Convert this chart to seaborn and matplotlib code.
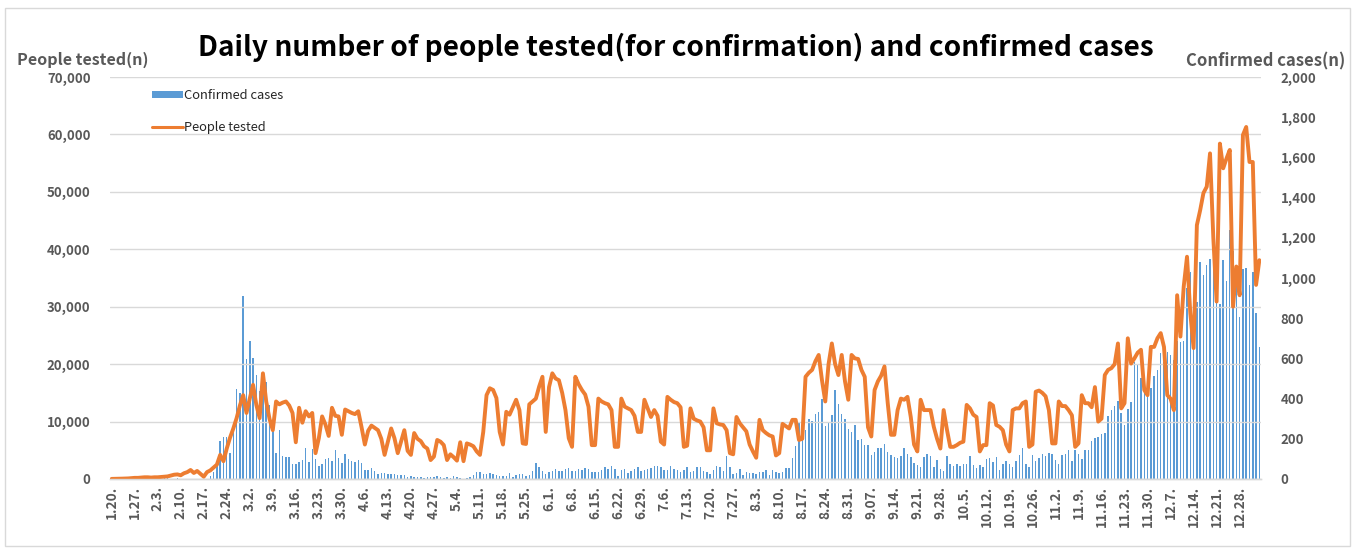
import numpy as np
import pandas as pd
import matplotlib
matplotlib.use("Agg")
import matplotlib.pyplot as plt
import seaborn as sns
from matplotlib.patches import Rectangle, Patch
from matplotlib.lines import Line2D
from matplotlib.ticker import FuncFormatter

# ---------------- data (daily, 2020-01-20 .. 2021-01-03) ----------------
dates = pd.date_range("2020-01-20", "2021-01-03", freq="D")

confirmed = [
    1, 0, 0, 0, 1, 0, 1, 1, 0, 0,
    2, 5, 1, 3, 0, 1, 3, 4, 1, 0,
    3, 0, 0, 0, 0, 0, 0, 1, 1, 1,
    15, 34, 74, 190, 210, 207, 130, 253, 449, 427,
    909, 595, 686, 600, 516, 438, 518, 483, 367, 248,
    131, 242, 114, 110, 107, 76, 74, 84, 93, 152,
    87, 147, 98, 64, 76, 100, 104, 91, 146, 105,
    78, 125, 101, 89, 86, 94, 81, 47, 47, 53,
    39, 27, 30, 32, 25, 27, 27, 22, 22, 18,
    8, 13, 9, 11, 8, 6, 10, 10, 10, 14,
    9, 4, 9, 6, 13, 8, 3, 2, 4, 12,
    18, 34, 35, 27, 26, 29, 27, 19, 13, 15,
    13, 32, 12, 20, 23, 25, 16, 19, 40, 79,
    58, 39, 27, 35, 38, 49, 39, 39, 51, 57,
    38, 38, 50, 45, 56, 48, 34, 37, 34, 43,
    59, 49, 67, 48, 17, 46, 51, 28, 39, 51,
    62, 42, 43, 51, 54, 63, 63, 61, 46, 44,
    63, 50, 45, 35, 44, 62, 33, 39, 61, 60,
    39, 34, 26, 45, 63, 59, 41, 113, 58, 25,
    28, 48, 18, 36, 31, 30, 23, 34, 33, 43,
    20, 43, 36, 28, 34, 54, 56, 103, 166, 279,
    197, 246, 297, 288, 324, 332, 397, 266, 280, 320,
    441, 371, 323, 299, 248, 235, 267, 195, 198, 168,
    167, 119, 136, 156, 155, 176, 136, 121, 109, 106,
    113, 153, 126, 110, 82, 70, 61, 110, 125, 114,
    61, 95, 50, 38, 113, 77, 63, 75, 64, 73,
    75, 114, 69, 54, 72, 58, 98, 102, 84, 110,
    47, 73, 91, 76, 58, 89, 121, 155, 77, 61,
    119, 88, 103, 125, 114, 127, 124, 97, 75, 118,
    125, 145, 89, 143, 126, 100, 146, 143, 191, 205,
    208, 223, 230, 313, 343, 363, 386, 330, 271, 349,
    382, 583, 569, 504, 450, 438, 451, 511, 540, 629,
    583, 631, 615, 594, 686, 682, 689, 950, 1030, 718,
    880, 1078, 1014, 1064, 1097, 1097, 926, 869, 1092, 985,
    1241, 1132, 970, 808, 1045, 1050, 967, 1029, 824, 657,
]

tested = [
    20, 30, 40, 60, 80, 100, 150, 200, 200, 250,
    300, 300, 250, 300, 300, 350, 400, 450, 600, 750,
    800, 650, 1000, 1200, 1570, 1050, 1400, 900, 400, 1200,
    1500, 2000, 2500, 4200, 3100, 5300, 7200, 8800, 10600, 12800,
    14600, 11500, 14000, 16400, 12900, 10600, 18400, 13500, 10500, 8500,
    13500, 13000, 13300, 13500, 12800, 11500, 6400, 12400, 9800, 11800,
    10900, 11500, 4500, 7100, 10900, 9500, 7500, 12400, 11000, 10900,
    7700, 12100, 11800, 11500, 11300, 11800, 9000, 6000, 8400, 9300,
    8900, 8500, 7000, 4200, 6500, 8800, 7100, 4500, 6500, 8500,
    4900, 4200, 8000, 7000, 6600, 5700, 5300, 3300, 3900, 6800,
    6500, 5900, 3300, 4300, 3800, 3200, 6400, 3100, 6200, 6000,
    5700, 4800, 4200, 8200, 14600, 15800, 15500, 14100, 8200, 6000,
    11700, 11200, 12500, 13800, 12000, 6200, 6100, 13000, 13500, 14000,
    16100, 17800, 8200, 16000, 18400, 17500, 17200, 15000, 12000, 7100,
    5600, 17800, 16500, 15500, 14700, 12600, 5900, 5900, 14000, 13500,
    13200, 13000, 12000, 5600, 5600, 14000, 12600, 12300, 12000, 11000,
    8200, 8200, 13800, 12300, 10800, 12000, 11000, 6500, 6000, 14300,
    13800, 13400, 13200, 12500, 5600, 5800, 12300, 10500, 10200, 10000,
    9000, 5000, 5000, 12300, 9700, 9500, 9400, 8500, 4500, 4300,
    10800, 9700, 9000, 8300, 6000, 4800, 3700, 10300, 8500, 8000,
    7600, 7400, 4100, 4500, 9600, 9200, 8800, 10300, 10300, 6800,
    7000, 17800, 18500, 19000, 20500, 21600, 17200, 13500, 20000, 23600,
    20000, 18100, 21600, 17000, 13800, 21600, 21000, 20900, 19000, 17800,
    9000, 7400, 15500, 17000, 18000, 19600, 13200, 7700, 7700, 12000,
    14000, 13800, 14300, 10800, 6000, 4800, 13800, 12000, 12000, 12000,
    9100, 7000, 5300, 12000, 8600, 5600, 5600, 5900, 6300, 6500,
    12900, 12300, 11200, 10800, 4800, 5900, 5900, 13200, 12800, 9400,
    9100, 8500, 6000, 4800, 12000, 12300, 12300, 13200, 13500, 5600,
    6000, 15200, 15400, 15000, 14400, 12000, 6200, 6200, 13500, 12700,
    12700, 12000, 11100, 5600, 6200, 14600, 13200, 13200, 12500, 16000,
    10000, 10500, 18100, 19000, 19300, 20000, 23600, 12300, 13200, 24500,
    20100, 21000, 22000, 22500, 15500, 14600, 23000, 23000, 24500, 25400,
    23000, 14600, 14000, 12000, 32000, 24800, 33500, 38700, 28900, 22800,
    44200, 46800, 49800, 50900, 56700, 42000, 30900, 58400, 54100, 55800,
    57300, 30000, 37000, 32000, 59900, 61300, 55200, 55200, 33800, 38100,
]

tick_labels = [
    "1.20.", "1.27.", "2.3.", "2.10.", "2.17.", "2.24.", "3.2.", "3.9.",
    "3.16.", "3.23.", "3.30.", "4.6.", "4.13.", "4.20.", "4.27.", "5.4.",
    "5.11.", "5.18.", "5.25.", "6.1.", "6.8.", "6.15.", "6.22.", "6.29.",
    "7.6.", "7.13.", "7.20.", "7.27.", "8.3.", "8.10.", "8.17.", "8.24.",
    "8.31.", "9.07.", "9.14.", "9.21.", "9.28.", "10.5.", "10.12.", "10.19.",
    "10.26.", "11.2.", "11.9.", "11.16.", "11.23.", "11.30.", "12.7.",
    "12.14.", "12.21.", "12.28.",
]

df = pd.DataFrame({"day": np.arange(len(dates)), "date": dates,
                   "confirmed": confirmed, "tested": tested})

# ---------------- style ----------------
sns.set_theme(style="white")
plt.rcParams["font.family"] = ["Noto Sans CJK KR", "DejaVu Sans"]

BLUE = "#5B9BD5"
ORANGE = "#ED7D31"
GREY = "#595959"
GRID = "#D9D9D9"

fig = plt.figure(figsize=(13.59, 5.50), dpi=100)
ax = fig.add_axes([110 / 1359, 1 - 479 / 550, (1261 - 110) / 1359, (479 - 77) / 550])
ax2 = ax.twinx()

# bars: confirmed cases on the secondary (right) axis
sns.barplot(data=df, x="day", y="confirmed", ax=ax2, color=BLUE, saturation=1,
            width=0.45, native_scale=True, errorbar=None, linewidth=0)
# line: people tested on the primary (left) axis
sns.lineplot(data=df, x="day", y="tested", ax=ax, color=ORANGE, linewidth=2.8)

ax.set_zorder(ax2.get_zorder() + 1)
ax.patch.set_visible(False)

ax.set_xlim(-0.5, len(dates) - 0.5)
ax.set_ylim(0, 70000)
ax2.set_ylim(0, 2000)
ax.set_yticks(np.arange(0, 70001, 10000))
ax2.set_yticks(np.arange(0, 2001, 200))
ax.yaxis.set_major_formatter(FuncFormatter(lambda v, p: f"{int(v):,}"))
ax2.yaxis.set_major_formatter(FuncFormatter(lambda v, p: f"{int(v):,}"))

ax.set_xticks(np.arange(0, len(dates), 7)[:len(tick_labels)])
ax.set_xticklabels(tick_labels, rotation=90)
ax.set_xticks(np.arange(-0.5, len(dates), 1), minor=True)

ax.set_xlabel("")
ax.set_ylabel("")
ax2.set_xlabel("")
ax2.set_ylabel("")

ax.yaxis.grid(True, color=GRID, linewidth=1.0)
ax.set_axisbelow(True)
ax2.grid(False)

for a in (ax, ax2):
    for s in ("top", "left", "right"):
        a.spines[s].set_visible(False)
    a.spines["bottom"].set_color(GRID)
    a.spines["bottom"].set_linewidth(1.0)

ax.tick_params(axis="y", length=0, pad=14, labelsize=9.5, labelcolor=GREY)
ax2.tick_params(axis="y", length=0, pad=14, labelsize=9.5, labelcolor=GREY)
ax.tick_params(axis="x", which="major", length=0, pad=5, labelsize=9.8, labelcolor=GREY)
ax.tick_params(axis="x", which="minor", length=4, width=0.6, color=GRID)
for lab in ax.get_yticklabels() + ax2.get_yticklabels() + ax.get_xticklabels():
    lab.set_fontweight("bold")

# titles
fig.text(676 / 1359, 1 - 47 / 550,
         "Daily number of people tested(for confirmation) and confirmed cases",
         ha="center", va="center", fontsize=20.2, fontweight="bold", color="black")
fig.text(17 / 1359, 1 - 60 / 550, "People tested(n)", ha="left", va="center",
         fontsize=11.6, fontweight="bold", color=GREY)
fig.text(1345 / 1359, 1 - 61 / 550, "Confirmed cases(n)", ha="right", va="center",
         fontsize=12, fontweight="bold", color=GREY)

# legend
handles = [Patch(facecolor=BLUE, edgecolor="none"),
           Line2D([0], [0], color=ORANGE, linewidth=2.2)]
fig.legend(handles, ["Confirmed cases", "People tested"],
           loc="upper left", bbox_to_anchor=(143 / 1359, 1 - 80 / 550),
           frameon=False, fontsize=9.3, labelspacing=1.45, handlelength=2.4,
           handleheight=0.45, handletextpad=0.1, borderpad=0.2,
           labelcolor="#262626")

# outer chart border
fig.patches.append(Rectangle((5 / 1359, 4 / 550), 1345 / 1359, 538 / 550,
                             transform=fig.transFigure, fill=False,
                             edgecolor=GRID, linewidth=1.0))

fig.savefig("out.png", dpi=100, facecolor="white")
